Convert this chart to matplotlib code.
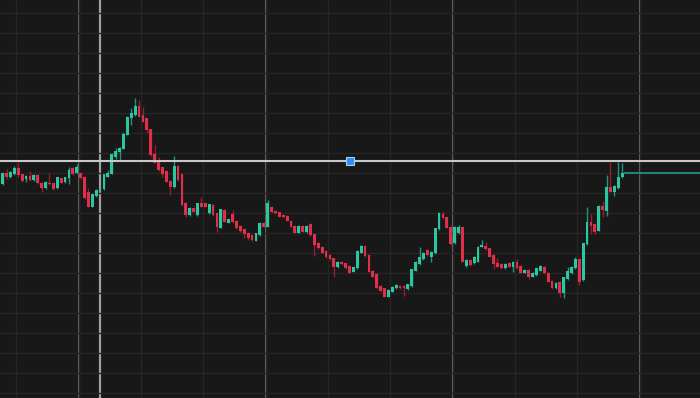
import numpy as np
import matplotlib
matplotlib.use("Agg")
import matplotlib.pyplot as plt

# candle data (arbitrary price units)
opens = [216.0, 227.3, 223.3, 226.0, 231.7, 225.7, 220.7, 224.0, 220.0, 225.0,
         217.3, 211.7, 217.3, 216.7, 211.7, 221.7, 218.3, 221.7, 231.7, 226.7,
         227.3, 223.3, 208.0, 193.3, 204.0, 210.0, 210.7, 223.3, 226.0, 243.3,
         248.3, 251.0, 265.0, 281.7, 285.0, 294.0, 285.0, 281.7, 270.7, 246.0,
         239.3, 232.7, 229.3, 219.0, 212.7, 234.0, 225.7, 197.3, 185.0, 192.3,
         185.0, 197.3, 196.7, 186.7, 195.0, 186.7, 172.3, 190.0, 177.3, 186.0,
         179.3, 174.0, 170.7, 167.3, 165.0, 159.3, 165.0, 177.3, 173.3, 193.3,
         189.3, 187.7, 185.0, 184.3, 179.0, 174.0, 167.3, 174.0, 167.7, 175.7,
         165.7, 157.3, 153.3, 149.3, 145.0, 141.7, 132.7, 138.3, 136.7, 134.0,
         128.3, 131.7, 147.3, 154.0, 145.0, 129.3, 126.0, 114.0, 111.7, 103.3,
         108.3, 111.7, 114.0, 114.0, 110.7, 114.0, 129.3, 136.0, 141.0, 150.0,
         143.3, 146.7, 170.7, 186.0, 182.7, 173.3, 156.7, 166.7, 173.3, 134.0,
         140.0, 136.7, 138.3, 153.3, 154.0, 151.7, 145.0, 136.7, 136.0, 131.7,
         137.3, 133.3, 138.3, 134.0, 127.3, 130.0, 123.3, 125.0, 129.3, 133.3,
         127.3, 119.3, 111.7, 118.3, 107.3, 120.7, 126.7, 131.7, 140.7, 120.0,
         156.0, 178.3, 176.0, 169.3, 194.0, 189.3, 212.7, 208.3, 211.7, 222.7]
highs = [228.0, 230.7, 229.0, 234.0, 238.3, 226.5, 225.0, 229.3, 226.0, 226.0,
         218.0, 218.7, 226.7, 217.3, 223.3, 222.3, 223.3, 233.3, 233.3, 236.0,
         228.0, 224.0, 212.3, 206.3, 211.0, 212.3, 226.3, 230.0, 246.7, 252.0,
         253.0, 268.3, 284.0, 291.7, 301.7, 300.0, 293.3, 282.3, 271.3, 255.0,
         242.7, 233.3, 230.0, 219.7, 244.0, 234.7, 226.3, 198.0, 193.0, 193.0,
         197.3, 202.7, 197.3, 196.3, 195.7, 187.3, 191.3, 190.7, 181.3, 190.0,
         180.0, 175.0, 171.3, 168.0, 166.0, 167.3, 178.0, 178.0, 200.0, 194.0,
         190.0, 188.3, 185.7, 185.0, 179.7, 174.7, 174.7, 175.0, 175.0, 176.7,
         166.3, 158.0, 154.0, 150.0, 145.7, 142.3, 139.0, 139.0, 137.3, 134.7,
         133.3, 150.0, 155.0, 154.7, 145.7, 130.0, 126.7, 114.7, 112.3, 110.7,
         114.0, 115.7, 114.7, 114.7, 116.3, 131.3, 139.0, 152.7, 148.0, 150.7,
         149.0, 172.3, 188.0, 189.3, 183.3, 174.0, 174.0, 175.0, 174.0, 141.0,
         141.0, 144.0, 154.0, 160.0, 158.3, 152.3, 145.7, 141.7, 136.7, 136.7,
         138.0, 139.0, 140.7, 134.7, 130.7, 130.7, 128.0, 132.3, 134.7, 134.0,
         128.0, 120.0, 118.0, 119.0, 123.3, 133.3, 134.0, 143.3, 141.3, 157.3,
         193.3, 186.0, 177.0, 194.7, 199.3, 225.0, 238.3, 215.0, 238.3, 237.3]
lows = [215.0, 220.7, 222.5, 225.0, 223.3, 218.0, 218.3, 219.5, 219.0, 216.0,
        208.3, 211.0, 215.0, 210.3, 211.0, 216.7, 217.3, 216.0, 225.3, 226.0,
        221.0, 201.0, 193.0, 193.0, 203.0, 209.7, 210.3, 223.0, 225.7, 241.0,
        240.0, 250.7, 264.7, 275.0, 284.0, 282.7, 277.7, 266.7, 244.3, 236.7,
        229.3, 223.0, 217.7, 205.0, 212.0, 219.3, 194.3, 183.3, 184.3, 187.7,
        184.3, 192.7, 192.7, 186.0, 184.3, 168.3, 171.7, 177.7, 176.7, 177.0,
        171.0, 168.0, 161.7, 160.0, 159.3, 158.7, 164.3, 172.7, 172.7, 187.0,
        186.0, 182.7, 182.0, 178.7, 172.7, 166.7, 166.7, 167.7, 167.0, 164.3,
        144.0, 151.0, 146.7, 142.0, 140.3, 123.3, 132.0, 135.3, 131.0, 126.7,
        127.7, 131.0, 146.7, 143.3, 127.7, 122.7, 111.0, 108.7, 102.7, 102.7,
        107.7, 111.0, 111.0, 104.0, 110.0, 113.3, 128.7, 135.3, 140.3, 144.3,
        138.3, 146.0, 170.0, 181.0, 171.7, 155.3, 156.0, 166.0, 137.7, 133.3,
        134.0, 136.0, 137.7, 152.7, 150.0, 142.7, 130.7, 132.7, 131.0, 131.0,
        132.7, 128.3, 131.0, 126.7, 126.7, 120.7, 122.7, 124.3, 128.7, 126.0,
        117.7, 111.0, 111.0, 103.3, 101.7, 120.0, 126.0, 131.0, 115.0, 119.3,
        155.3, 166.0, 166.3, 168.7, 182.7, 184.0, 207.7, 204.0, 211.0, 222.0]
closes = [227.3, 222.7, 228.3, 232.3, 225.0, 219.3, 224.0, 220.0, 225.3, 216.7,
          211.7, 218.0, 216.0, 211.0, 222.7, 217.3, 222.7, 230.0, 226.0, 233.3,
          221.7, 201.7, 193.3, 205.7, 210.0, 211.7, 225.7, 227.3, 246.0, 249.3,
          251.7, 265.7, 282.7, 286.7, 294.0, 283.3, 278.3, 270.0, 245.0, 237.3,
          230.0, 225.7, 218.3, 212.7, 234.0, 220.0, 195.0, 185.0, 192.3, 188.3,
          196.7, 193.3, 193.3, 195.7, 185.0, 172.7, 190.7, 178.3, 180.7, 178.0,
          171.7, 169.3, 166.0, 161.7, 160.0, 166.7, 177.3, 173.3, 197.3, 187.7,
          186.7, 183.3, 182.7, 179.3, 173.3, 167.3, 174.0, 168.3, 174.0, 165.0,
          155.0, 151.7, 147.3, 142.7, 141.0, 132.7, 138.3, 136.0, 131.7, 127.3,
          132.7, 149.3, 154.0, 144.0, 128.3, 123.3, 111.7, 109.3, 103.3, 110.0,
          113.3, 115.0, 111.7, 111.7, 115.7, 130.7, 138.3, 143.3, 147.3, 145.0,
          148.3, 171.7, 187.3, 181.7, 172.3, 156.0, 173.3, 172.7, 138.3, 140.0,
          135.0, 143.3, 153.3, 155.0, 150.7, 143.3, 136.0, 133.3, 131.7, 136.0,
          133.3, 138.3, 131.7, 127.3, 130.0, 122.7, 127.3, 131.7, 134.0, 126.7,
          118.3, 111.7, 117.3, 106.7, 122.7, 129.0, 133.3, 140.7, 118.3, 156.7,
          178.3, 174.0, 168.3, 194.0, 190.0, 212.7, 208.3, 214.0, 223.3, 226.7]

ref_price = 239.0          # white horizontal line
marker_bar = 25            # light vertical marker
session_breaks = [19.5, 67.5, 115.5, 163.5]

bg = "#181818"
up_body, up_wick = "#2bc7a0", "#1f9480"
dn_body, dn_wick = "#de2f4c", "#9a1c2c"

o = np.array(opens); h = np.array(highs); l = np.array(lows); c = np.array(closes)
idx = np.arange(len(o))
up = c >= o

fig = plt.figure(figsize=(7, 3.98), dpi=100, facecolor=bg)
ax = fig.add_axes([0, 0, 1, 1], facecolor=bg)

# grid
ax.set_xticks(np.arange(3.5, 180, 16))
ax.set_yticks(np.arange(6.7, 400, 20))
ax.grid(True, color="#262626", lw=1.0)
ax.tick_params(left=False, bottom=False, labelleft=False, labelbottom=False)
for s in ax.spines.values():
    s.set_visible(False)

for xb in session_breaks:
    ax.axvline(xb, color="#6a6a6a", lw=1.5, zorder=1)
ax.axvline(marker_bar, color="#a0a0a0", lw=1.6, zorder=1)

# candles
wick_cols = np.where(up, up_wick, dn_wick)
body_cols = np.where(up, up_body, dn_body)
ax.vlines(idx, l, h, colors=wick_cols, lw=1.0, zorder=2)
bottoms = np.minimum(o, c)
heights = np.maximum(np.abs(c - o), 0.8)
ax.bar(idx, heights, bottom=bottoms, width=0.72, color=body_cols, lw=0, zorder=3)

# last price line and reference line
ax.hlines(c[-1], idx[-1] + 0.5, 185, color="#1f8a7c", lw=1.4, zorder=2)
ax.axhline(ref_price, color="#c8c8c8", lw=1.5, zorder=4)
ax.plot([0.5], [ref_price], marker="s", ms=5.5, mfc="#2f8ef0", mec="#a9cdf3",
        mew=0.8, transform=ax.get_yaxis_transform(), zorder=5, clip_on=False)

ax.set_xlim(-0.69, 178.98)
ax.set_ylim(2, 400)

fig.savefig("out.png", dpi=100, facecolor=bg)
